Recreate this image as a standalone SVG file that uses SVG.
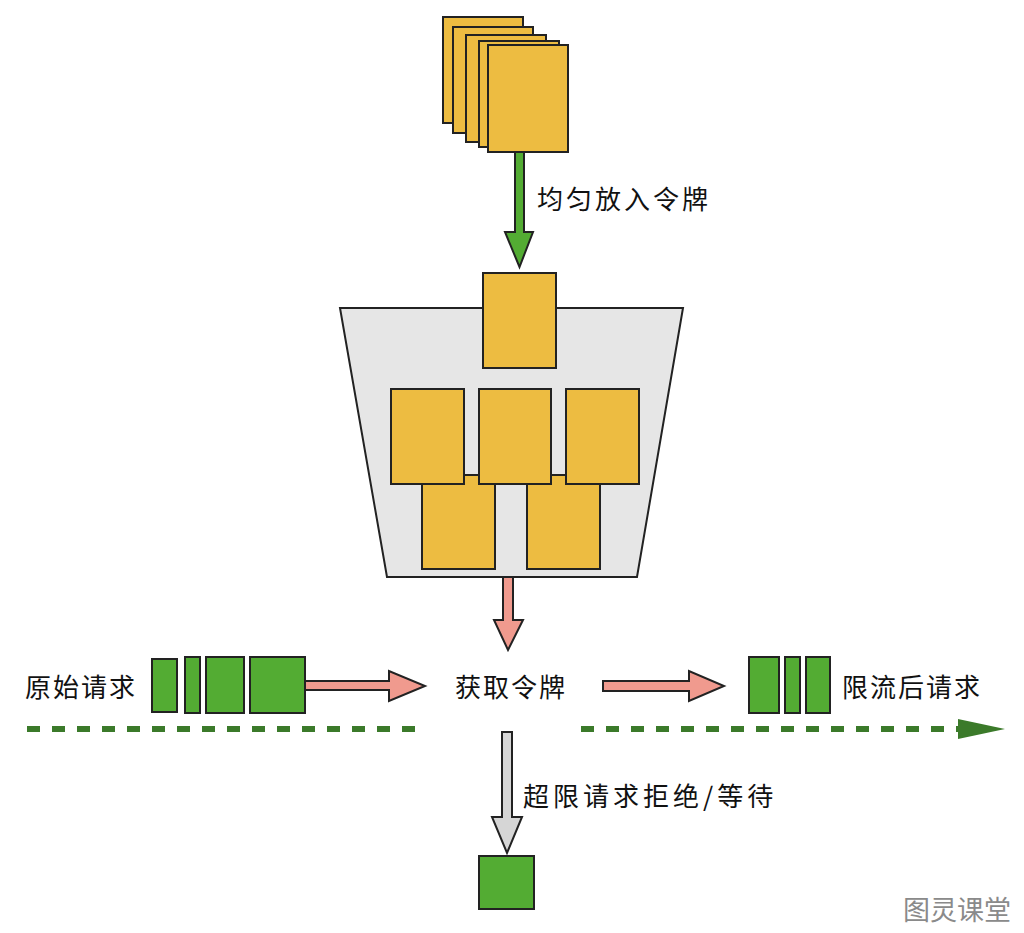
<svg xmlns="http://www.w3.org/2000/svg" width="1024" height="933" viewBox="0 0 1024 933">
<style>
.card{fill:#EDBC41;stroke:#222;stroke-width:2}
.req{fill:#53AC33;stroke:#222;stroke-width:2}
.lbl{font-family:"Noto Sans CJK SC","Noto Sans",sans-serif;font-size:26px;fill:#111;letter-spacing:2px}
.dash{stroke:#3B7A2A;stroke-width:6;stroke-dasharray:13 12;fill:none}
</style>
<rect width="1024" height="933" fill="#fff"/>
<g id="token-stack">
<rect class="card" x="443" y="17" width="80" height="106"/>
<rect class="card" x="453" y="27" width="80" height="106"/>
<rect class="card" x="466" y="35" width="80" height="107"/>
<rect class="card" x="479" y="41" width="80" height="106"/>
<rect class="card" x="488" y="45" width="80" height="107"/>
</g>
<g id="bucket">
<polygon points="340,308 683,308 637,577 387,577" fill="#E6E6E6" stroke="#222" stroke-width="2"/>
<rect class="card" x="483" y="273" width="73" height="95"/>
<rect class="card" x="422" y="475" width="73" height="94"/>
<rect class="card" x="527" y="475" width="73" height="94"/>
<rect class="card" x="391" y="389" width="73" height="95"/>
<rect class="card" x="479" y="389" width="72" height="95"/>
<rect class="card" x="566" y="389" width="73" height="95"/>
</g>
<g id="connectors">
<polygon points="515,152 524,152 524,232 533,232 519.5,267 505,232 515,232" fill="#53AC33" stroke="#222" stroke-width="2" stroke-linejoin="miter"/>
<polygon points="503,577 513,577 513,620 523,620 508,650 494,620 503,620" fill="#F09A8E" stroke="#222" stroke-width="2"/>
<polygon points="305,681 389,681 389,671 425,686 389,701 389,690 305,690" fill="#F09A8E" stroke="#222" stroke-width="2"/>
<polygon points="603,681 689,681 689,671 724,686 689,701 689,691 603,691" fill="#F09A8E" stroke="#222" stroke-width="2"/>
<polygon points="502,732 512,732 512,817 522,817 507,853 492,817 502,817" fill="#D6D6D6" stroke="#222" stroke-width="2"/>
<line class="dash" x1="27" y1="729" x2="416" y2="729"/>
<line class="dash" x1="581" y1="729" x2="960" y2="729"/>
<polygon points="958,719 1005,729 958,739" fill="#3B7A2A"/>
</g>
<g id="label-put">
<text class="lbl" x="537" y="209" style="letter-spacing:3px">均匀放入令牌</text>
</g>
<g id="original-requests">
<text class="lbl" x="25" y="697">原始请求</text>
<rect class="req" x="152" y="659" width="25" height="53"/>
<rect class="req" x="185" y="657" width="15" height="56"/>
<rect class="req" x="206" y="657" width="38" height="56"/>
<rect class="req" x="250" y="657" width="55" height="56"/>
</g>
<g id="get-token">
<text class="lbl" x="455" y="697">获取令牌</text>
</g>
<g id="limited-requests">
<rect class="req" x="749" y="657" width="30" height="56"/>
<rect class="req" x="785" y="657" width="15" height="56"/>
<rect class="req" x="806" y="657" width="24" height="56"/>
<text class="lbl" x="842" y="697">限流后请求</text>
</g>
<g id="rejected">
<text class="lbl" x="523" y="806" style="letter-spacing:4px">超限请求拒绝/等待</text>
<rect class="req" x="479" y="856" width="55" height="53"/>
</g>
<g id="watermark">
<text x="903" y="920" font-family="'Noto Sans CJK SC',sans-serif" font-size="27" fill="#8a8a8a">图灵课堂</text>
</g>
</svg>
